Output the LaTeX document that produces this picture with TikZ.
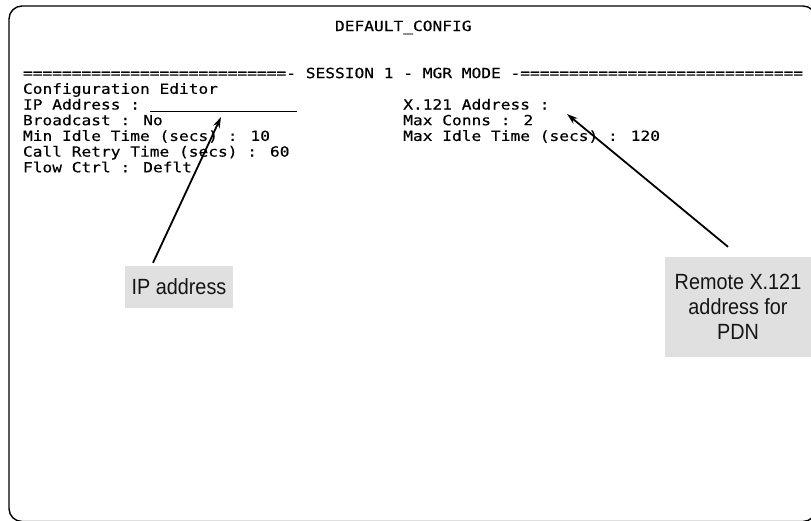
\documentclass[tikz,border=0pt]{standalone}
\usepackage{fontspec}
\usetikzlibrary{arrows.meta}
\newfontfamily\termfont[FakeStretch=1.157,FakeBold=0.4]{DejaVu Sans Mono}
\newfontfamily\labelfont[FakeStretch=0.9]{Liberation Sans}
\definecolor{calloutgray}{HTML}{E0E0E0}
\definecolor{inkdark}{HTML}{151515}
\tikzset{
  term/.style={anchor=base west, inner sep=0pt, outer sep=0pt,
    font=\termfont\fontsize{14}{16}\selectfont, text=black},
  callout/.style={fill=calloutgray, draw=none, inner sep=0pt, align=center,
    font=\labelfont\fontsize{22}{25}\selectfont, text=inkdark},
  pointer/.style={line width=1.8pt, -{Stealth[length=11pt,width=7pt]}},
  frame/.style={line width=1.4pt, rounded corners=13pt}
}
\begin{document}
\begin{tikzpicture}[x=1pt,y=-1pt]
\useasboundingbox (0,0) rectangle (811,520);
% screen border (right and bottom sides run off the page)
\draw[frame] (9,6) rectangle (816,521.5);
% terminal rows: column pitch 9.75, row pitch 15.7
\def\cx#1{23+#1*9.75}
\def\ry#1{31+#1*15.7}
\node[term] (title) at ({\cx{32}},{\ry{0}}) {DEFAULT\_CONFIG};
\node[term] (banner) at ({\cx{0}},{\ry{3}}) {===========================-~SESSION~1~-~MGR~MODE~-=============================};
\node[term] (editor) at ({\cx{0}},{\ry{4}}) {Configuration Editor};
\node[term] (ipline) at ({\cx{0}},{\ry{5}}) {IP Address :};
\node[term] (bcast) at ({\cx{0}},{\ry{6}}) {Broadcast : No};
\node[term] (minidle) at ({\cx{0}},{\ry{7}}) {Min Idle Time (secs) : 10};
\node[term] (retry) at ({\cx{0}},{\ry{8}}) {Call Retry Time (secs) : 60};
\node[term] (flow) at ({\cx{0}},{\ry{9}}) {Flow Ctrl : Deflt};
\node[term] (x121) at ({\cx{39}},{\ry{5}}) {X.121 Address :};
\node[term] (conns) at ({\cx{39}},{\ry{6}}) {Max Conns : 2};
\node[term] (maxidle) at ({\cx{39}},{\ry{7}}) {Max Idle Time (secs) : 120};
% empty IP address entry field
\coordinate (fieldL) at ({\cx{13}},{\ry{5}+2});
\coordinate (fieldR) at (297,{\ry{5}+2});
\draw[line width=1.4pt] (fieldL) -- (fieldR);
% callouts
\node[callout, minimum width=108pt, minimum height=42pt] (ipbox) at (179,287) {IP address};
\node[callout, minimum width=146pt, minimum height=100pt] (remotebox) at (738,307) {Remote X.121\\address for\\PDN};
\coordinate (ipfield) at (221,117);
\coordinate (x121field) at (567,114);
\draw[pointer] ([xshift=-26pt,yshift=3pt]ipbox.north) -- (ipfield);
\draw[pointer] ([xshift=-10pt,yshift=10pt]remotebox.north) -- (x121field);
\end{tikzpicture}
\end{document}
